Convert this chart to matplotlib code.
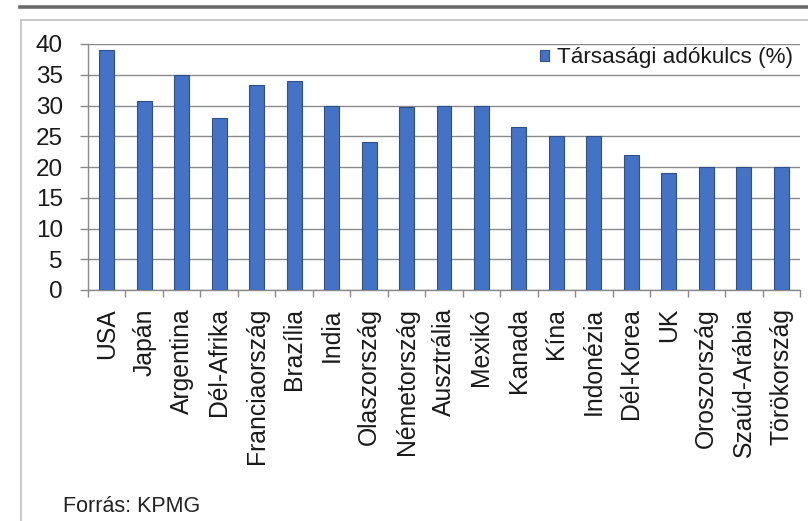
import matplotlib
matplotlib.use("Agg")
import matplotlib.pyplot as plt
from matplotlib.lines import Line2D
import numpy as np

plt.rcParams['font.family'] = ['Liberation Sans', 'DejaVu Sans']

countries = ["USA", "Japán", "Argentina", "Dél-Afrika", "Franciaország", "Brazília",
             "India", "Olaszország", "Németország", "Ausztrália", "Mexikó", "Kanada",
             "Kína", "Indonézia", "Dél-Korea", "UK", "Oroszország", "Szaúd-Arábia",
             "Törökország"]
rates = [39.1, 30.8, 35, 28, 33.3, 34, 30, 24, 29.8, 30, 30, 26.5,
         25, 25, 22, 19, 20, 20, 20]
series_label = "Társasági adókulcs (%)"
yticks = [0, 5, 10, 15, 20, 25, 30, 35, 40]
source = "Forrás: KPMG"

W, H = 808, 521
fig = plt.figure(figsize=(W / 100, H / 100), dpi=100)

# decorative frame lines
fig.add_artist(Line2D([20 / W, 1], [1 - 6.5 / H, 1 - 6.5 / H], color='#6a6a6a', lw=2.6,
                      transform=fig.transFigure))
fig.add_artist(Line2D([21 / W, 1], [1 - 19.5 / H, 1 - 19.5 / H], color='#c4c4c4', lw=1.3,
                      transform=fig.transFigure))
fig.add_artist(Line2D([21 / W, 21 / W], [0, 1 - 19.5 / H], color='#c4c4c4', lw=1.3,
                      transform=fig.transFigure))

ax = fig.add_axes([88 / W, 1 - 290 / H, 712 / W, 246 / H])
x = np.arange(len(countries))
ax.bar(x, rates, width=0.4, color='#4472C4', edgecolor='#2f4f8a', linewidth=0.8,
       zorder=3, label=series_label)

ax.set_xlim(-0.5, len(countries) - 0.5)
ax.set_ylim(0, 40)
ax.set_yticks(yticks)
ax.set_yticklabels([str(v) for v in yticks], fontsize=17.5, color='#1a1a1a')
ax.yaxis.grid(True, color='#8a8a8a', lw=1.0, zorder=0)
ax.tick_params(axis='y', length=6, width=1.0, color='#8a8a8a', pad=12)

ax.set_xticks(x)
ax.set_xticklabels(countries, rotation=90, fontsize=17.8, color='#1a1a1a')
ax.tick_params(axis='x', which='major', length=0, pad=13)
ax.set_xticks(np.arange(-0.5, len(countries), 1), minor=True)
ax.tick_params(axis='x', which='minor', length=5, width=1.0, color='#8a8a8a')

for s in ['top', 'right']:
    ax.spines[s].set_visible(False)
for s in ['left', 'bottom']:
    ax.spines[s].set_color('#8a8a8a')
    ax.spines[s].set_linewidth(1.0)

fig.legend(loc='center right', bbox_to_anchor=(793 / W, 1 - 58 / H), frameon=False,
           fontsize=16.2, handlelength=0.42, handleheight=0.42, handletextpad=0.35,
           borderpad=0, borderaxespad=0, labelcolor='#1a1a1a')

fig.text(63 / W, 1 - 512 / H, source, fontsize=15.5, color='#222222', va='baseline')

fig.savefig("out.png", dpi=100)
